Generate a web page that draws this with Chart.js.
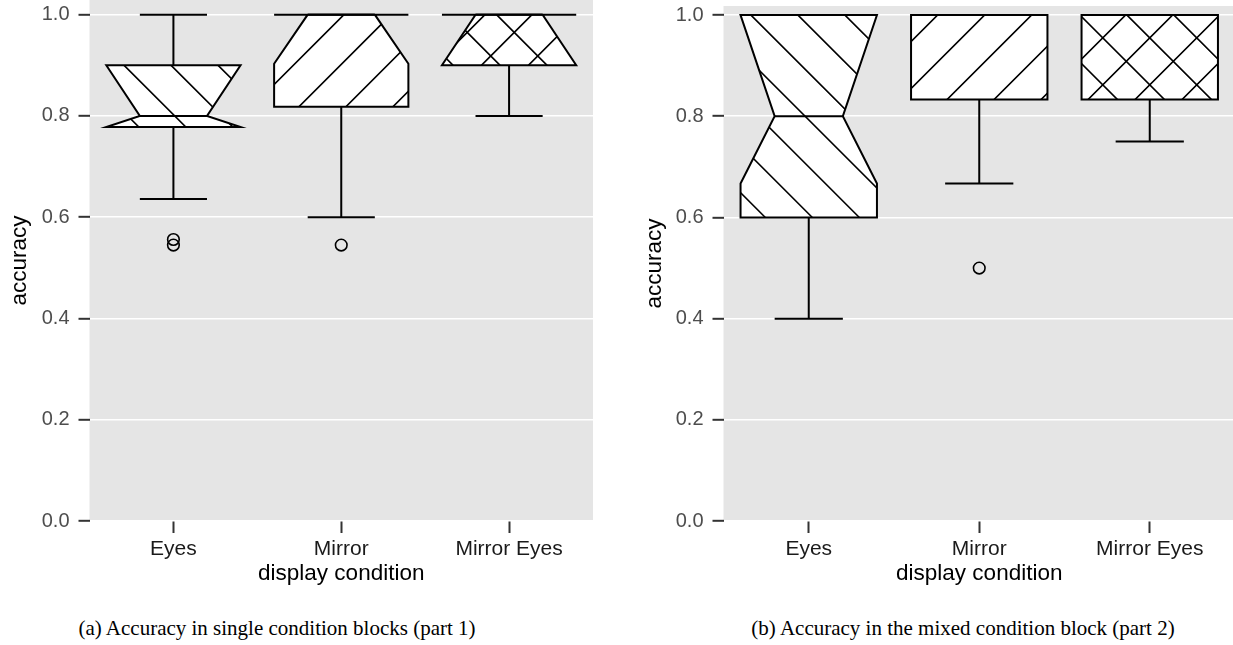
<!DOCTYPE html>
<html><head><meta charset="utf-8">
<script src="https://cdn.jsdelivr.net/npm/chart.js@4.4.1/dist/chart.umd.min.js"></script>
<style>
html,body{margin:0;padding:0;background:#fff;}
#wrap{position:relative;width:1233px;height:645px;overflow:hidden;}
canvas{position:absolute;top:0;}
.cap{position:absolute;font-family:'Liberation Serif','Times New Roman',serif;font-size:21px;line-height:24px;color:#000;text-align:center;white-space:nowrap;}
</style></head><body>
<div id="wrap">
<canvas id="ca" width="593" height="588" style="left:0px"></canvas>
<canvas id="cb" width="635" height="588" style="left:600px"></canvas>
<div class="cap" style="left:-23px;width:600px;top:616px;">(a) Accuracy in single condition blocks (part 1)</div>
<div class="cap" style="left:663px;width:600px;top:616px;">(b) Accuracy in the mixed condition block (part 2)</div>
</div>
<script>
// ---- data ----
const categories = ['Eyes', 'Mirror', 'Mirror Eyes'];
const yTicks = [0, 0.2, 0.4, 0.6, 0.8, 1.0];

// panel (a): single condition blocks
const aWhiskerLow  = [0.636, 0.600, 0.800];
const aQ1          = [0.778, 0.818, 0.900];
const aMedian      = [0.800, 1.000, 1.000];
const aQ3          = [0.900, 1.000, 1.000];
const aWhiskerHigh = [1.000, 1.000, 1.000];
const aNotchLow    = [0.778, 0.903, 0.900];
const aNotchHigh   = [0.900, 1.000, 1.000];
const aOutliers    = [[0.556, 0.545], [0.545], []];

// panel (b): mixed condition block
const bWhiskerLow  = [0.400, 0.667, 0.750];
const bQ1          = [0.600, 0.833, 0.833];
const bMedian      = [0.800, 1.000, 1.000];
const bQ3          = [1.000, 1.000, 1.000];
const bWhiskerHigh = [1.000, 1.000, 1.000];
const bNotchLow    = [0.667, null, null];
const bNotchHigh   = [1.000, null, null];
const bOutliers    = [[], [0.5], []];

// hatch style per category
const hatchKinds = ['back', 'fwd', 'cross'];

// ---- drawing helpers ----
function hatchLines(ctx, kind, bx0, by0, bx1, by1, ax, ay, phase, s) {
  ctx.beginPath();
  if (kind === 'back') {
    const base = ax - ay + phase;
    const cmin = bx0 - by1 - s, cmax = bx1 - by0 + s;
    let c = base + Math.ceil((cmin - base) / s) * s;
    for (; c <= cmax; c += s) { ctx.moveTo(by0 + c, by0); ctx.lineTo(by1 + c, by1); }
  } else {
    const base = ax + ay + phase;
    const cmin = bx0 + by0 - s, cmax = bx1 + by1 + s;
    let c = base + Math.ceil((cmin - base) / s) * s;
    for (; c <= cmax; c += s) { ctx.moveTo(c - by0, by0); ctx.lineTo(c - by1, by1); }
  }
  ctx.stroke();
}

function makeBoxPlugin(st, phases) {
  return {
    id: 'notchedBoxes',
    beforeDraw(chart) {
      const {ctx, chartArea: a} = chart;
      ctx.save();
      ctx.fillStyle = '#e5e5e5';
      ctx.fillRect(a.left, a.top, a.right - a.left, a.bottom - a.top);
      ctx.restore();
    },
    afterDatasetsDraw(chart) {
      const ctx = chart.ctx;
      const ys = chart.scales.y;
      const P = v => ys.getPixelForValue(v);
      const ax = chart.chartArea.left, ay = P(1.0);
      const meta = chart.getDatasetMeta(0);
      meta.data.forEach((bar, i) => {
        const cx = bar.x, w = bar.width;
        const x0 = cx - w / 2, x1 = cx + w / 2, nw = w / 4;
        ctx.save();
        ctx.strokeStyle = '#000';
        ctx.lineWidth = 2;
        // whiskers
        ctx.beginPath();
        ctx.moveTo(cx, P(st.q3[i])); ctx.lineTo(cx, P(st.hi[i]));
        ctx.moveTo(cx, P(st.q1[i])); ctx.lineTo(cx, P(st.lo[i]));
        ctx.moveTo(cx - w / 4, P(st.hi[i])); ctx.lineTo(cx + w / 4, P(st.hi[i]));
        ctx.moveTo(cx - w / 4, P(st.lo[i])); ctx.lineTo(cx + w / 4, P(st.lo[i]));
        ctx.stroke();
        // box path
        const path = () => {
          ctx.beginPath();
          if (st.nl[i] == null) {
            ctx.moveTo(x0, P(st.q3[i])); ctx.lineTo(x0, P(st.q1[i]));
            ctx.lineTo(x1, P(st.q1[i])); ctx.lineTo(x1, P(st.q3[i]));
          } else {
            ctx.moveTo(x0, P(st.q3[i])); ctx.lineTo(x0, P(st.nh[i]));
            ctx.lineTo(cx - nw, P(st.med[i])); ctx.lineTo(x0, P(st.nl[i]));
            ctx.lineTo(x0, P(st.q1[i])); ctx.lineTo(x1, P(st.q1[i]));
            ctx.lineTo(x1, P(st.nl[i])); ctx.lineTo(cx + nw, P(st.med[i]));
            ctx.lineTo(x1, P(st.nh[i])); ctx.lineTo(x1, P(st.q3[i]));
          }
          ctx.closePath();
        };
        path();
        ctx.fillStyle = '#fff';
        ctx.fill();
        // hatch
        ctx.save();
        path();
        ctx.clip();
        ctx.lineWidth = 1.6;
        const kind = hatchKinds[i];
        const by0 = P(st.q3[i]), by1 = P(st.q1[i]);
        if (kind === 'back' || kind === 'cross') hatchLines(ctx, 'back', x0, by0, x1, by1, ax, ay, phases.back, phases.s);
        if (kind === 'fwd' || kind === 'cross') hatchLines(ctx, 'fwd', x0, by0, x1, by1, ax, ay, phases.fwd, phases.s);
        ctx.restore();
        // outline
        path();
        ctx.lineWidth = 2;
        ctx.stroke();
        // median
        ctx.beginPath();
        const mw = st.nl[i] == null ? w / 2 : nw;
        ctx.moveTo(cx - mw, P(st.med[i])); ctx.lineTo(cx + mw, P(st.med[i]));
        ctx.stroke();
        ctx.restore();
      });
    }
  };
}

function buildChart(id, st, opts) {
  const outlierPts = [];
  st.out.forEach((arr, i) => arr.forEach(v => outlierPts.push({x: categories[i], y: v})));
  return new Chart(document.getElementById(id), {
    type: 'bar',
    data: {
      labels: categories,
      datasets: [
        {
          type: 'bar',
          data: categories.map((c, i) => [st.q1[i], st.q3[i]]),
          backgroundColor: 'rgba(0,0,0,0)',
          borderWidth: 0,
          barPercentage: 0.8,
          categoryPercentage: 1.0
        },
        {
          type: 'scatter',
          data: outlierPts,
          pointStyle: 'circle',
          pointRadius: 5.8,
          pointBorderWidth: 1.6,
          pointBorderColor: '#000',
          pointBackgroundColor: 'rgba(0,0,0,0)',
          showLine: false
        }
      ]
    },
    options: {
      responsive: false,
      animation: false,
      devicePixelRatio: 1,
      events: [],
      layout: {autoPadding: false, padding: {top: opts.padTop, left: 0, right: 0, bottom: 0}},
      plugins: {legend: {display: false}, tooltip: {enabled: false}},
      scales: {
        x: {
          type: 'category',
          offset: true,
          border: {display: false},
          grid: {drawOnChartArea: false, drawTicks: true, offset: false, tickLength: 12, tickColor: '#333', tickWidth: 2},
          ticks: {color: '#1a1a1a', padding: 4, font: {family: 'Liberation Sans, Arial, sans-serif', size: 21}, maxRotation: 0},
          title: {display: true, text: 'display condition', color: '#000', padding: {top: 0, bottom: 0.5},
                  font: {family: 'Liberation Sans, Arial, sans-serif', size: 22.5}},
          afterFit: axis => { axis.height = 67; axis.paddingLeft = 0; axis.paddingRight = 0; }
        },
        y: {
          type: 'linear',
          min: 0,
          max: opts.yMax,
          border: {display: false},
          grid: {color: '#ffffff', lineWidth: 1.6, drawTicks: true, tickLength: 11, tickColor: '#333', tickWidth: 2},
          afterBuildTicks: axis => { axis.ticks = yTicks.map(v => ({value: v})); },
          ticks: {color: '#4d4d4d', padding: 9, font: {family: 'Liberation Sans, Arial, sans-serif', size: 20},
                  callback: v => Number(v).toFixed(1)},
          title: {display: true, text: 'accuracy', color: '#000', padding: {top: opts.titlePad, bottom: 0},
                  font: {family: 'Liberation Sans, Arial, sans-serif', size: 22.5}},
          afterFit: axis => { axis.width = opts.yWidth; axis.paddingTop = 0; axis.paddingBottom = 0; }
        }
      }
    },
    plugins: [makeBoxPlugin(st, opts.phases)]
  });
}

buildChart('ca', {
  lo: aWhiskerLow, q1: aQ1, med: aMedian, q3: aQ3, hi: aWhiskerHigh,
  nl: aNotchLow, nh: aNotchHigh, out: aOutliers
}, {padTop: 0, yMax: 1.029, yWidth: 89.5, titlePad: 6.5, phases: {back: 31, fwd: 19.5, s: 47}});

buildChart('cb', {
  lo: bWhiskerLow, q1: bQ1, med: bMedian, q3: bQ3, hi: bWhiskerHigh,
  nl: bNotchLow, nh: bNotchHigh, out: bOutliers
}, {padTop: 6, yMax: 1.018, yWidth: 123.5, titlePad: 41.5, phases: {back: 27.5, fwd: 26, s: 47}});
</script>
</body></html>
